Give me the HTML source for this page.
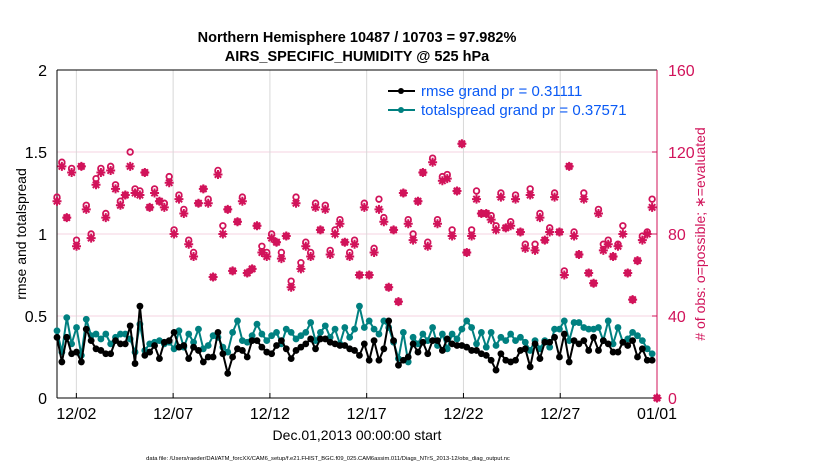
<!DOCTYPE html>
<html><head><meta charset="utf-8"><style>
body{margin:0;background:#fff;width:830px;height:470px;overflow:hidden;font-family:"Liberation Sans",sans-serif}
</style></head><body>
<svg id="chart" width="830" height="470" xmlns="http://www.w3.org/2000/svg" font-family="Liberation Sans, sans-serif">
<g id="grid"></g>
<g id="axes"></g>
<g id="marks"></g>
<text x="357" y="42" text-anchor="middle" font-size="14.5" font-weight="bold">Northern Hemisphere 10487 / 10703 = 97.982%</text>
<text x="357" y="61" text-anchor="middle" font-size="14.5" font-weight="bold">AIRS_SPECIFIC_HUMIDITY @ 525 hPa</text>
<text transform="translate(26,234) rotate(-90)" text-anchor="middle" font-size="14">rmse and totalspread</text>
<text transform="translate(705,234) rotate(-90)" text-anchor="middle" font-size="14" fill="#d1135a"># of obs: o=possible; ∗=evaluated</text>
<text x="357" y="440" text-anchor="middle" font-size="14">Dec.01,2013 00:00:00 start</text>
<text x="328" y="460" text-anchor="middle" font-size="5.8">data file: /Users/raeder/DAI/ATM_forcXX/CAM6_setup/f.e21.FHIST_BGC.f09_025.CAM6assim.011/Diags_NTrS_2013-12/obs_diag_output.nc</text>
<g>
<line x1="388" y1="91" x2="415" y2="91" stroke="#000" stroke-width="2"/><circle cx="401" cy="91" r="3" fill="#000"/>
<text x="421" y="96" font-size="15" fill="#0a5af5">rmse grand pr = 0.31111</text>
<line x1="388" y1="110" x2="415" y2="110" stroke="#008080" stroke-width="2"/><circle cx="401" cy="110" r="3" fill="#008080"/>
<text x="421" y="115" font-size="15" fill="#0a5af5">totalspread grand pr = 0.37571</text>
</g>
</svg>
<script>
const xTickLabels=["12/02","12/07","12/12","12/17","12/22","12/27","01/01"];
const xTickDays=[1,6,11,16,21,26,31];
const leftTicks=[0,0.5,1,1.5,2];
const rightTicks=[0,40,80,120,160];
const rmse=[0.37,0.22,0.37,0.27,0.28,0.22,0.42,0.35,0.30,0.29,0.27,0.27,0.35,0.33,0.33,0.44,0.21,0.56,0.26,0.28,0.32,0.24,0.34,0.35,0.40,0.31,0.32,0.24,0.31,0.29,0.22,0.25,0.25,0.40,0.27,0.15,0.25,0.30,0.29,0.25,0.35,0.35,0.31,0.28,0.27,
0.32,0.35,0.30,0.24,0.29,0.31,0.33,0.36,0.30,0.36,0.36,0.34,0.33,0.32,0.32,0.30,0.29,0.26,0.33,0.23,0.35,0.23,0.30,0.47,0.35,0.20,0.23,0.25,0.33,0.28,0.34,0.27,0.35,0.35,0.29,0.36,0.33,0.32,0.32,0.31,0.29,0.29,0.27,0.26,0.23,0.17,
0.27,0.23,0.22,0.23,0.29,0.30,0.19,0.33,0.24,0.34,0.34,0.37,0.25,0.39,0.22,0.35,0.33,0.35,0.29,0.37,0.29,0.35,0.33,0.28,0.28,0.34,0.32,0.35,0.25,0.30,0.23,0.23,null];
const spread=[0.41,0.28,0.49,0.33,0.43,0.26,0.48,0.38,0.39,0.36,0.39,0.33,0.37,0.39,0.39,0.36,0.28,0.45,0.29,0.33,0.34,0.35,0.33,0.34,0.30,0.41,0.31,0.39,0.34,0.42,0.30,0.32,0.38,0.37,0.31,0.28,0.40,0.47,0.35,0.34,0.38,0.45,0.39,0.35,0.38,
0.40,0.33,0.42,0.40,0.36,0.38,0.40,0.46,0.35,0.40,0.44,0.37,0.42,0.33,0.43,0.37,0.42,0.56,0.43,0.47,0.42,0.39,0.47,0.43,0.34,0.24,0.40,0.22,0.37,0.33,0.39,0.35,0.43,0.32,0.39,0.30,0.39,0.36,0.42,0.47,0.43,0.33,0.40,0.31,0.40,0.32,
0.37,0.35,0.39,0.35,0.37,0.34,0.29,0.35,0.30,0.35,0.31,0.42,0.42,0.47,0.35,0.46,0.46,0.43,0.42,0.42,0.43,0.35,0.47,0.33,0.43,0.34,0.36,0.40,0.38,0.35,0.30,0.27,null];
const evaluated=[96,113,88,110,74,113,92,78,104,110,88,111,102,94,99,113,100,99,110,93,100,96,93,105,80,97,90,75,69,95,102,95,59,109,80,92,62,86,96,61,63,84,71,69,78,
76,68,79,54,95,63,74,69,93,82,92,70,80,85,76,69,75,60,93,60,71,92,86,54,82,47,100,85,77,96,110,74,115,85,106,107,79,101,124,71,79,97,90,90,87,82,
98,83,84,97,81,73,99,72,88,77,81,98,81,60,113,79,70,97,61,56,90,72,75,69,74,80,61,48,67,77,80,93,0];
const possible=[98,115,88,112,77,113,94,80,107,112,90,113,104,96,99,120,102,101,110,93,102,96,95,108,82,99,92,77,71,95,102,97,59,111,84,92,62,86,98,61,63,84,74,71,80,
76,71,79,57,98,66,76,71,95,82,94,72,82,87,76,71,77,60,95,60,73,97,88,54,82,47,100,87,80,96,110,76,117,87,108,109,82,101,124,71,82,101,90,90,89,84,
100,83,86,99,81,75,102,75,90,77,83,100,81,62,113,81,70,100,61,56,92,75,77,69,75,84,61,48,67,79,81,97,0];
const L=57,R=657,T=70,B=398,NS="http://www.w3.org/2000/svg";
const xDay=d=>L+(d)*(R-L)/31;
const yL=v=>B-v*(B-T)/2;
const yR=v=>B-v*(B-T)/160;
const tOf=i=>i*31/(evaluated.length-1);
function mk(tag,attrs,parent){const e=document.createElementNS(NS,tag);for(const k in attrs)e.setAttribute(k,attrs[k]);parent.appendChild(e);return e;}
const grid=document.getElementById('grid'),axes=document.getElementById('axes'),marks=document.getElementById('marks');
leftTicks.forEach((v,i)=>{if(v>0&&v<2){const g=mk('line',{x1:L,x2:R,y1:yL(v),y2:yL(v),stroke:'#f6d3e0','stroke-width':1},grid);

}
const t=mk('text',{x:L-10,y:yL(v)+6,'text-anchor':'end','font-size':16},axes);t.textContent=v;

});
rightTicks.forEach(v=>{const t=mk('text',{x:R+11,y:yR(v)+6,'font-size':16,fill:'#d1135a'},axes);t.textContent=v;


mk('line',{x1:R-5,x2:R,y1:yR(v),y2:yR(v),stroke:'#d1135a'},axes);});
xTickDays.forEach((d,i)=>{const x=xDay(d);if(d<31){const g=mk('line',{x1:x,x2:x,y1:T,y2:B,stroke:'#d8d8d8','stroke-width':1},grid);

}
mk('line',{x1:x,x2:x,y1:B,y2:B-5,stroke:'#000'},axes);
const t=mk('text',{x:x,y:B+21,'text-anchor':'middle','font-size':16},axes);t.textContent=xTickLabels[i];

});
mk('line',{x1:L,x2:R,y1:T,y2:T,stroke:'#000'},axes);
mk('line',{x1:L,x2:R,y1:B,y2:B,stroke:'#000'},axes);
mk('line',{x1:L,x2:L,y1:T,y2:B,stroke:'#000'},axes);
mk('line',{x1:R,x2:R,y1:T,y2:B,stroke:'#d1135a'},axes);
function series(arr,color,name){let d='';arr.forEach((v,i)=>{if(v==null)return;d+=(d?'L':'M')+xDay(tOf(i)).toFixed(1)+','+yL(v).toFixed(1);});
const p=mk('path',{d:d,fill:'none',stroke:color,'stroke-width':2},marks);


arr.forEach((v,i)=>{if(v==null)return;const c=mk('circle',{cx:xDay(tOf(i)),cy:yL(v),r:3.4,fill:color},marks);

});}
series(spread,'#008080','totalspread');
series(rmse,'#000','rmse');
const red='#d1135a';
possible.forEach((v,i)=>{const c=mk('circle',{cx:xDay(tOf(i)),cy:yR(v),r:2.8,fill:'none',stroke:red,'stroke-width':1.8},marks);

});
evaluated.forEach((v,i)=>{const x=xDay(tOf(i)),y=yR(v),s=4.5,q=3.2;
const g=mk('path',{d:`M${x-s},${y}H${x+s}M${x},${y-s}V${y+s}M${x-q},${y-q}L${x+q},${y+q}M${x-q},${y+q}L${x+q},${y-q}`,stroke:red,'stroke-width':2,fill:'none'},marks);

});
</script>
</body></html>
